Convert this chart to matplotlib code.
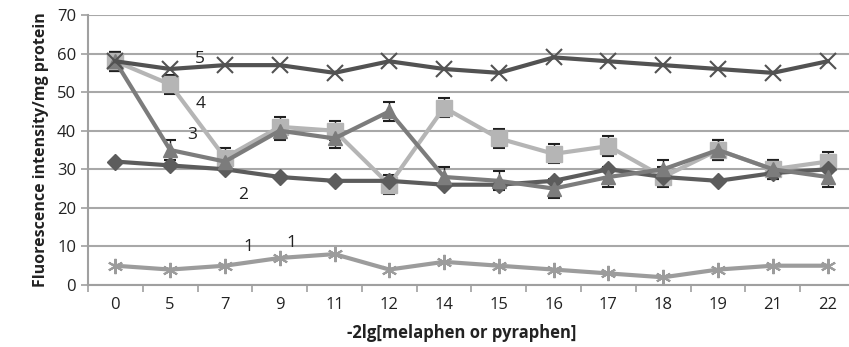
import matplotlib
matplotlib.use("Agg")
import matplotlib.pyplot as plt
from matplotlib.ticker import FixedLocator

# data
categories = ['0', '5', '7', '9', '11', '12', '14', '15', '16', '17', '18', '19', '21', '22']
s1 = [5, 4, 5, 7, 8, 4, 6, 5, 4, 3, 2, 4, 5, 5]
s2 = [32, 31, 30, 28, 27, 27, 26, 26, 27, 30, 28, 27, 29, 30]
s3 = [58, 35, 32, 40, 38, 45, 28, 27, 25, 28, 30, 35, 30, 28]
s4 = [58, 52, 33, 41, 40, 26, 46, 38, 34, 36, 28, 35, 30, 32]
s5 = [58, 56, 57, 57, 55, 58, 56, 55, 59, 58, 57, 56, 55, 58]
err3 = [2.5, 2.5, 2.5, 2.5, 2.5, 2.5, 2.5, 2.5, 2.5, 2.5, 2.5, 2.5, 2.5, 2.5]
err4 = [2.5, 2.5, 2.5, 2.5, 2.5, 2.5, 2.5, 2.5, 2.5, 2.5, 2.5, 2.5, 2.5, 2.5]
err5 = [2.5, 0, 0, 0, 0, 0, 0, 0, 0, 0, 0, 0, 0, 0]

plt.rcParams['font.family'] = ['Open Sans', 'DejaVu Sans']

x = list(range(len(categories)))
fig = plt.figure(figsize=(8.49, 3.47), dpi=100)
ax = fig.add_axes([0.1036, 0.1787, 0.8964, 0.7781])

# error bars (mostly hidden behind the markers, caps stick out)
eb = dict(fmt='none', ecolor='#202020', elinewidth=1, capsize=4, capthick=1.5, zorder=2.5)
ax.errorbar(x, s4, yerr=err4, **eb)
ax.errorbar(x, s3, yerr=err3, **eb)
ax.errorbar([x[0]], [s5[0]], yerr=[err5[0]], **eb)

# lines with markers
ax.plot(x, s1, color='#9c9c9c', lw=3, marker=(6, 2, 0), ms=11, mew=1.5, zorder=3)
ax.plot(x, s2, color='#5c5c5c', lw=3, marker='D', ms=8, zorder=4)
ax.plot(x, s4, color='#b5b5b5', lw=3, marker='s', ms=12, zorder=3)
ax.plot(x, s3, color='#7c7c7c', lw=3, marker='^', ms=10, zorder=4)
ax.plot(x, s5, color='#525252', lw=3, marker='x', ms=12, mew=1.5, zorder=5)

# curve numbers
lab = dict(fontsize=12.5, color='#222222', ha='center', va='center', zorder=7)
ax.text(1.55, 58.7, '5', **lab)
ax.text(1.55, 47.0, '4', **lab)
ax.text(1.40, 38.9, '3', **lab)
ax.text(2.33, 23.3, '2', **lab)
ax.text(2.43, 9.8, '1', **lab)
ax.text(3.22, 10.9, '1', **lab)

ax.set_xlim(-0.5, 13.39)
ax.set_ylim(0, 70)
ax.set_yticks(range(0, 71, 10))
ax.set_xticks(x)
ax.set_xticklabels(categories)
ax.xaxis.set_minor_locator(FixedLocator([i - 0.5 for i in range(len(categories) + 1)]))
ax.tick_params(axis='x', which='major', length=0, labelsize=12, pad=9, colors='#222222')
ax.tick_params(axis='x', which='minor', length=5, width=1.2, color='#a0a0a0', direction='out')
ax.tick_params(axis='y', length=5, width=1.2, color='#a0a0a0', labelsize=12, labelcolor='#222222')

ax.yaxis.grid(True, color='#a8a8a8', lw=1.5)
ax.set_axisbelow(True)
for side in ['top', 'right']:
    ax.spines[side].set_visible(False)
ax.spines['left'].set_color('#a0a0a0')
ax.spines['left'].set_linewidth(1.5)
ax.spines['bottom'].set_color('#a0a0a0')
ax.spines['bottom'].set_linewidth(1.5)

ax.set_ylabel('Fluorescence intensity/mg protein', fontsize=11.5, fontweight='bold',
              color='#222222', labelpad=6)
ax.set_xlabel('-2lg[melaphen or pyraphen]', fontsize=12, fontweight='bold',
              color='#222222', labelpad=6)
ax.xaxis.set_label_coords((462 - 88) / (849 - 88), -0.145)

fig.savefig('out.png', dpi=100)
